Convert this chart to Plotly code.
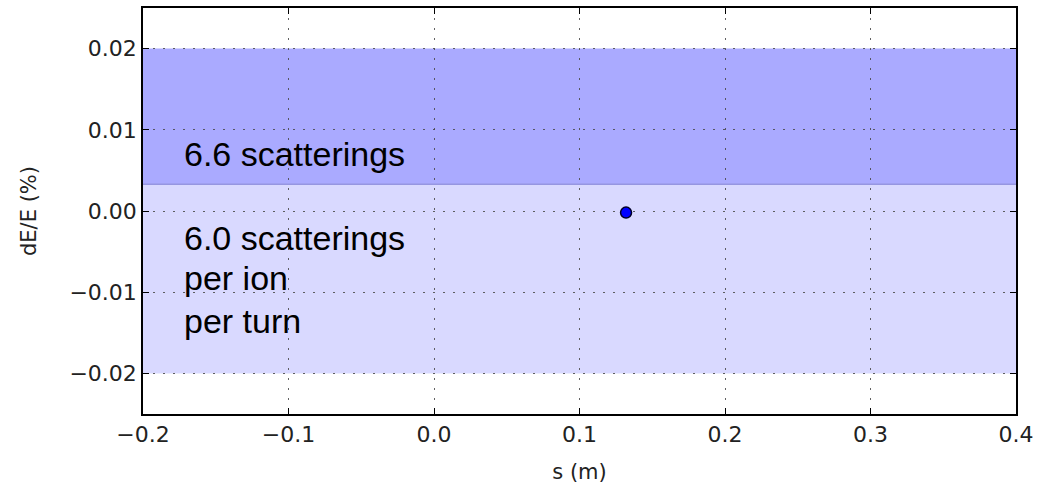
import plotly.graph_objects as go

# data
point_s = [0.132]
point_dE = [-0.0002]
band_low = [0.0033, -0.02]
band_high = [0.02, 0.0033]
band_colors = ["rgb(170,170,255)", "rgb(217,217,255)"]
label_lines = ["6.6 scatterings", "6.0 scatterings", "per ion", "per turn"]
label_x = [-0.173, -0.173, -0.173, -0.173]
label_y = [0.0096, -0.0007, -0.0057, -0.0109]
x_ticks = [-0.2, -0.1, 0.0, 0.1, 0.2, 0.3, 0.4]
x_ticktext = ["\u22120.2", "\u22120.1", "0.0", "0.1", "0.2", "0.3", "0.4"]
y_ticks = [-0.02, -0.01, 0.0, 0.01, 0.02]
y_ticktext = ["\u22120.02", "\u22120.01", "0.00", "0.01", "0.02"]

fig = go.Figure()

for lo, hi, c in zip(band_low, band_high, band_colors):
    fig.add_shape(type="rect", xref="x domain", yref="y", x0=0, x1=1, y0=lo, y1=hi,
                  fillcolor=c, line=dict(width=0), layer="below")
fig.add_shape(type="line", xref="x domain", yref="y", x0=0, x1=1, y0=band_low[0], y1=band_low[0],
              line=dict(color="rgb(150,150,225)", width=1.5), layer="below")

fig.add_trace(go.Scatter(x=point_s, y=point_dE, mode="markers",
                         marker=dict(size=11, color="rgb(0,0,255)",
                                     line=dict(color="rgb(0,0,40)", width=1.5)),
                         showlegend=False))

for t, xx, yy in zip(label_lines, label_x, label_y):
    fig.add_annotation(x=xx, y=yy, xref="x", yref="y", text=t, showarrow=False,
                       xanchor="left", yanchor="top", align="left",
                       font=dict(family="Liberation Sans, Arial", size=34, color="black"))

axis_common = dict(showline=True, linecolor="black", linewidth=1.5, mirror="ticks",
                   ticks="inside", ticklen=6, tickcolor="black", tickwidth=1,
                   showgrid=True, gridcolor="rgba(70,70,70,0.85)", griddash="2px,8px", gridwidth=1,
                   zeroline=False, automargin=False,
                   tickfont=dict(family="DejaVu Sans", size=22, color="#222"),
                   title_font=dict(family="DejaVu Sans", size=21, color="#222"))

fig.update_xaxes(range=[-0.2, 0.4], tickvals=x_ticks, ticktext=x_ticktext,
                 title_text="s (m)", title_standoff=18, **axis_common)
fig.update_yaxes(range=[-0.025, 0.025], tickvals=y_ticks, ticktext=y_ticktext,
                 title_text="dE/E (%)", title_standoff=27, **axis_common)

fig.update_layout(width=1037, height=484, margin=dict(l=143, r=21, t=8, b=70),
                  plot_bgcolor="white", paper_bgcolor="white", showlegend=False)

fig.write_html("out.html")
